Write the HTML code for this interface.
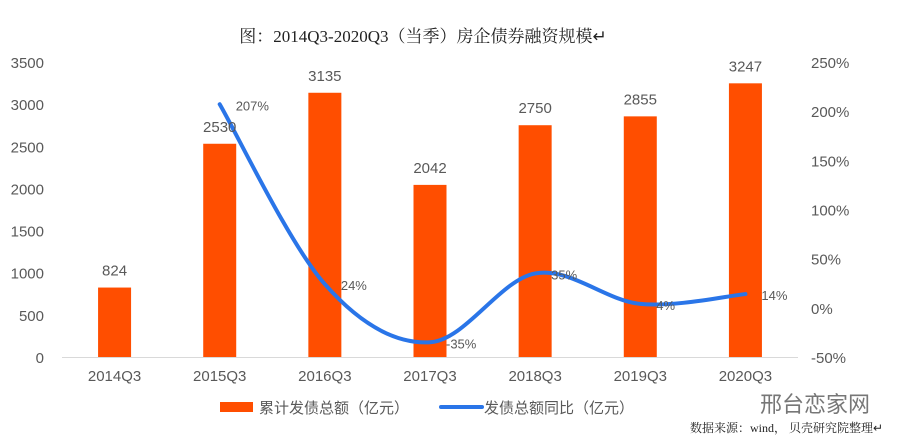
<!DOCTYPE html>
<html><head><meta charset="utf-8"><style>
body{margin:0;background:#fff;width:900px;height:443px;overflow:hidden}
svg{display:block}
text{font-family:"Liberation Sans","Noto Sans CJK SC",sans-serif;fill:#595959}
</style></head><body>
<svg id="c" width="900" height="443">
<text x="423" y="42" text-anchor="middle" style="font-family:'Liberation Serif','Noto Serif CJK SC',serif;font-size:17px;fill:#222">图：2014Q3-2020Q3（当季）房企债券融资规模↵</text>
<g id="ax"></g><g id="bars"></g><g id="line"></g><g id="lbl"></g>
<g>
<rect x="220" y="402" width="33" height="10" fill="#FF4E00"/>
<text x="259" y="413" font-size="15">累计发债总额（亿元）</text>
<line x1="441" y1="407" x2="482" y2="407" stroke="#2A75E8" stroke-width="4" stroke-linecap="round"/>
<text x="484" y="413" font-size="15">发债总额同比（亿元）</text>
</g>
<text x="690" y="432" style="font-family:'Liberation Serif','Noto Serif CJK SC',serif;font-size:12px;fill:#222">数据来源：wind， 贝壳研究院整理↵</text>
<text x="760" y="412" font-size="22" style="fill:#777">邢台恋家网</text>
</svg>
<script>
const categories=["2014Q3","2015Q3","2016Q3","2017Q3","2018Q3","2019Q3","2020Q3"];
const issuance=[824,2530,3135,2042,2750,2855,3247];
const yoy=[null,207,24,-35,35,4,14];
const leftTicks=[0,500,1000,1500,2000,2500,3000,3500];
const rightTicks=[-50,0,50,100,150,200,250];
const NS="http://www.w3.org/2000/svg";
const x0=62,x1=798,yB=357,yT=62;
const step=(x1-x0)/categories.length;
const xc=i=>x0+step*(i+0.5);
const yL=v=>yB-(v/3500)*(yB-yT);
const yR=v=>yB-((v+50)/300)*(yB-yT);
function mk(tag,attrs,parent,txt){const e=document.createElementNS(NS,tag);for(const k in attrs)e.setAttribute(k,attrs[k]);if(txt!==undefined)e.textContent=txt;document.getElementById(parent).appendChild(e);return e;}
leftTicks.forEach(t=>{const e=mk('text',{x:44,y:yL(t)+6,'text-anchor':'end','font-size':15},'ax',t);

});
rightTicks.forEach(t=>{const e=mk('text',{x:811,y:yR(t)+6,'font-size':15},'ax',t+'%');

});
const axl=mk('line',{x1:x0,y1:yB+0.5,x2:x1,y2:yB+0.5,stroke:'#d9d9d9','stroke-width':1},'ax');


categories.forEach((c,i)=>{
const t=mk('text',{x:xc(i),y:381,'text-anchor':'middle','font-size':15},'ax',c);


const b=mk('rect',{x:xc(i)-16.5,y:yL(issuance[i]),width:33,height:yB-yL(issuance[i]),fill:'#FF4E00'},'bars');


const v=mk('text',{x:xc(i),y:yL(issuance[i])-12,'text-anchor':'middle','font-size':15},'lbl',issuance[i]);


});
const pts=[];yoy.forEach((v,i)=>{if(v!==null)pts.push([xc(i),yR(v)]);});
let d='M'+pts[0][0]+','+pts[0][1];
for(let i=0;i<pts.length-1;i++){const p0=pts[i-1]||pts[i],p1=pts[i],p2=pts[i+1],p3=pts[i+2]||p2;const k=1/6;
d+=` C${p1[0]+(p2[0]-p0[0])*k},${p1[1]+(p2[1]-p0[1])*k} ${p2[0]-(p3[0]-p1[0])*k},${p2[1]-(p3[1]-p1[1])*k} ${p2[0]},${p2[1]}`;}
const ln=mk('path',{d:d,fill:'none',stroke:'#2A75E8','stroke-width':4,'stroke-linecap':'round'},'line');


yoy.forEach((v,i)=>{if(v===null)return;
const t=mk('text',{x:xc(i)+16,y:yR(v)+6,'font-size':13},'lbl',v+'%');

});
</script>
</body></html>
